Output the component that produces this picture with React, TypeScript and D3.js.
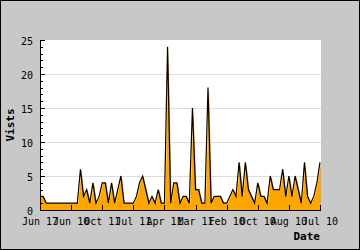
import React from "react";
import * as d3 from "d3";

const xLabels = ["Jun 17", "Jun 10", "Oct 11", "Jul 11", "Apr 11", "Mar 11", "Feb 10", "Oct 10", "Aug 10", "Jul 10"];
const visits = [
  2, 2, 1, 1, 1, 1, 1, 1, 1, 1,
  1, 1, 1, 6, 2, 3, 1, 4, 1, 2,
  4, 4, 1, 4, 1, 3, 5, 1, 1, 1,
  1, 2, 4, 5, 3, 1, 2, 1, 3, 1,
  1, 24, 1, 4, 4, 1, 2, 2, 1, 15,
  3, 3, 1, 1, 18, 1, 2, 2, 2, 1,
  1, 2, 3, 2, 7, 2, 7, 3, 2, 1,
  4, 2, 2, 1, 5, 3, 3, 3, 6, 2,
  5, 2, 5, 3, 1, 7, 2, 1, 2, 4,
  7,
];
const yTicks = [0, 5, 10, 15, 20, 25];
const yMinor = d3.range(0, 26, 1);
const labelEvery = 10;

const W = 360, H = 250;
const L = 40, R = 320, T = 40, B = 210;
const FONT = "'DejaVu Sans Mono', monospace";

export default function App() {
  const x = d3.scaleLinear().domain([0, visits.length - 1]).range([L, R]);
  const y = d3.scaleLinear().domain([0, 25]).range([B, T]);
  const area = d3.area<number>().x((_, i) => x(i) + 1).y0(y(0)).y1((d) => y(d));
  const line = d3.line<number>().x((_, i) => x(i)).y((d) => y(d));
  const tickIdx = xLabels.map((_, k) => k * labelEvery);

  return (
    <svg width={W} height={H} style={{ position: "absolute", left: 0, top: 0, display: "block" }}>
      <rect x={0} y={0} width={W} height={H} fill="#c8c8c8" />
      <rect x={0.5} y={0.5} width={W - 1} height={H - 1} fill="none" stroke="#000" />
      <defs>
        <clipPath id="plot">
          <rect x={L} y={T} width={R - L + 1} height={B - T} />
        </clipPath>
      </defs>
      <rect x={L} y={T} width={R - L + 1} height={B - T} fill="#fff" />
      {yTicks.slice(1, -1).map((t) => (
        <line key={"g" + t} x1={L} x2={R + 1} y1={Math.round(y(t)) + 0.5} y2={Math.round(y(t)) + 0.5} stroke="#dcdcdc" />
      ))}
      <g clipPath="url(#plot)">
        <path d={area(visits) || ""} fill="#ffa500" />
        <path d={line(visits) || ""} fill="none" stroke="#000" strokeWidth={1.2} strokeLinejoin="miter" />
      </g>
      {yMinor.map((t) => (
        <line key={"m" + t} x1={L} x2={L + (t % 5 === 0 ? 5 : 3)} y1={Math.round(y(t)) + 0.5} y2={Math.round(y(t)) + 0.5} stroke="#000" />
      ))}
      {tickIdx.map((i) => (
        <line key={"xt" + i} x1={Math.round(x(i)) + 0.5} x2={Math.round(x(i)) + 0.5} y1={B} y2={B - 5} stroke="#000" />
      ))}
      <line x1={L + 0.5} x2={L + 0.5} y1={T} y2={B + 1} stroke="#000" />
      <line x1={L} x2={R + 1} y1={B + 0.5} y2={B + 0.5} stroke="#000" />
      {yTicks.map((t) => (
        <text key={"yl" + t} x={33} y={y(t) + 4.5} textAnchor="end" fontFamily={FONT} fontSize={10} fill="#000">
          {t}
        </text>
      ))}
      {xLabels.map((lab, k) => (
        <text key={"xl" + k} x={x(k * labelEvery)} y={225} textAnchor="middle" fontFamily={FONT} fontSize={10} fill="#000">
          {lab}
        </text>
      ))}
      <text x={320} y={239.5} textAnchor="end" fontFamily={FONT} fontSize={11} fontWeight="bold" fill="#000">
        Date
      </text>
      <text transform="translate(13.5,125) rotate(-90)" textAnchor="middle" fontFamily={FONT} fontSize={11} fontWeight="bold" fill="#000">
        Vists
      </text>
    </svg>
  );
}
